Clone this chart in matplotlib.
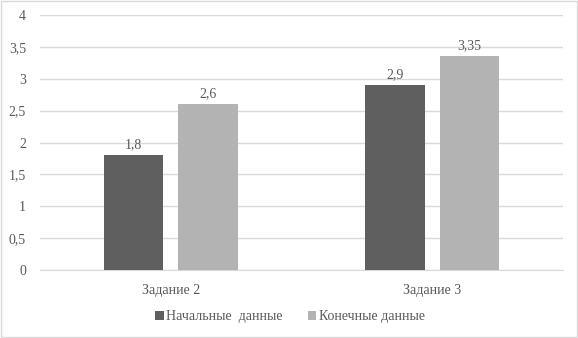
import numpy as np
import matplotlib.pyplot as plt
from matplotlib.patches import Rectangle

categories = ['Задание 2', 'Задание 3']
initial = [1.8, 2.9]
final = [2.6, 3.35]
series_names = ['Начальные  данные', 'Конечные данные']
yticks = [0, 0.5, 1, 1.5, 2, 2.5, 3, 3.5, 4]

def fmt(v):
    return ('%g' % v).replace('.', ',')

plt.rcParams['font.family'] = ['Liberation Serif', 'DejaVu Serif']
txt = '#595959'
dark = '#5f5f5f'
light = '#b3b3b3'
fs = 10

fig = plt.figure(figsize=(5.78, 3.38), dpi=100)
ax = fig.add_axes([0.0692, 0.2012, 0.905, 0.7544])
fig.patches.append(Rectangle((0.001, 0.002), 0.997, 0.995, transform=fig.transFigure,
                             fill=False, edgecolor='#d9d9d9', linewidth=1))

x = np.arange(len(categories))
w = 0.226
off = 0.1425
b1 = ax.bar(x - off, initial, w, color=dark, label=series_names[0], zorder=3)
b2 = ax.bar(x + off, final, w, color=light, label=series_names[1], zorder=3)

for bars, vals in ((b1, initial), (b2, final)):
    for r, v in zip(bars, vals):
        ax.text(r.get_x() + r.get_width() / 2, v + 0.06, fmt(v), ha='center', va='bottom',
                fontsize=fs, color=txt)

ax.set_xlim(-0.5, 1.5)
ax.set_ylim(0, 4)
ax.set_yticks(yticks)
ax.set_yticklabels([fmt(t) for t in yticks], fontsize=fs, color=txt)
ax.set_xticks(x)
ax.set_xticklabels(categories, fontsize=fs, color=txt)
ax.tick_params(axis='both', length=0)
ax.tick_params(axis='y', pad=10)
ax.tick_params(axis='x', pad=10)
ax.grid(axis='y', color='#d9d9d9', linewidth=1, zorder=0)
for s in ['top', 'right', 'left']:
    ax.spines[s].set_visible(False)
ax.spines['bottom'].set_color('#d9d9d9')

fig.legend(loc='center', bbox_to_anchor=(0.502, 0.063), ncol=2, frameon=False,
           fontsize=fs, labelcolor=txt, handlelength=0.6, handleheight=0.6,
           handletextpad=0.2, columnspacing=1.8)

fig.savefig('out.png', dpi=100)
